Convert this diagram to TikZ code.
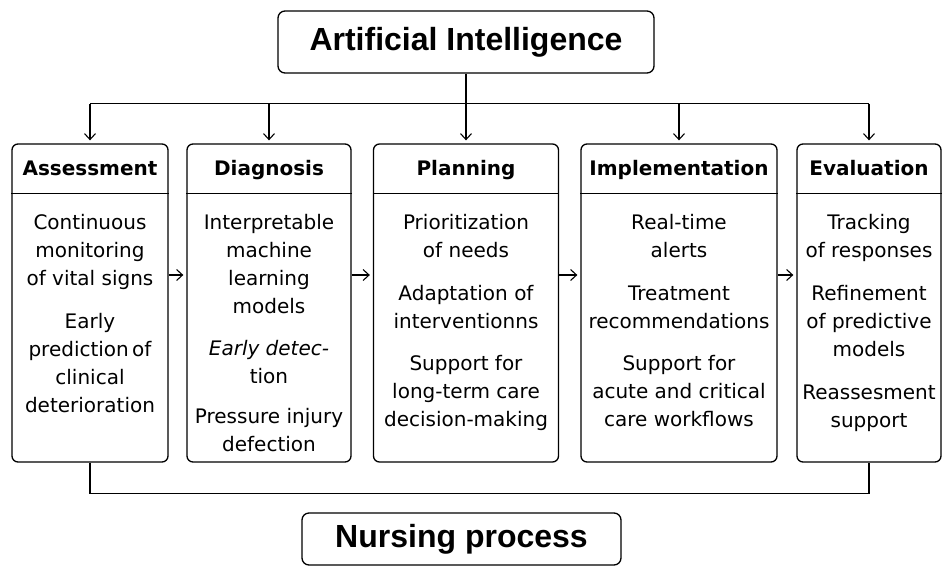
\documentclass[tikz,border=0pt]{standalone}
\usepackage{fontspec}
\setmainfont{DejaVu Sans}
\newfontfamily\titlefont{Liberation Sans}
\usepackage{tikz}
\usetikzlibrary{arrows.meta,positioning,calc}

\tikzset{
  bigbox/.style={draw,line width=1.3pt,rounded corners=7pt,minimum width=319pt,minimum height=52pt,
    font=\titlefont\bfseries\fontsize{32}{36}\selectfont},
  stage/.style={draw,line width=1.3pt,rounded corners=6pt,minimum height=318pt},
  stagehead/.style={text height=15pt,text depth=4pt,font=\bfseries\fontsize{20}{24}\selectfont},
  stagebody/.style={anchor=north,inner sep=0pt,align=center,font=\fontsize{20}{28}\selectfont},
  link/.style={line width=1.3pt},
  flow/.style={line width=1.1pt,-{Straight Barb[length=6pt,width=11pt]}},
}

\begin{document}
\begin{tikzpicture}[x=1pt,y=-1pt]
\useasboundingbox (0,0) rectangle (943,566);

% top and bottom boxes
\node[bigbox,minimum width=376pt,minimum height=62pt] (ai) at (466,42) {Artificial Intelligence};
\node[bigbox] (nurse) at (461.5,539) {Nursing process};

% the five stages
\node[stage,minimum width=156pt] (assess) at (90,303) {};
\node[stage,minimum width=164pt] (diag) at (269,303) {};
\node[stage,minimum width=185pt] (plan) at (466,303) {};
\node[stage,minimum width=196pt] (impl) at (679,303) {};
\node[stage,minimum width=144pt] (eval) at (869,303) {};

\foreach \s in {assess,diag,plan,impl,eval}
  \draw[link] ([yshift=-50pt]\s.north west) -- ([yshift=-50pt]\s.north east);

\node[stagehead] (assess-h) at (90,170) {Assessment};
\node[stagehead] (diag-h) at (269,170) {Diagnosis};
\node[stagehead] (plan-h) at (466,170) {Planning};
\node[stagehead] (impl-h) at (679,170) {Implementation};
\node[stagehead] (eval-h) at (869,170) {Evaluation};

\node[stagebody] (assess-b) at (90,214) {Continuous\\monitoring\\of vital signs\\[15pt]Early\\prediction\,of\\clinical\\deterioration};
\node[stagebody] (diag-b) at (269,214) {Interpretable\\machine\\learning\\models\\[14pt]\textit{Early detec-}\\tion\\[12pt]Pressure injury\\defection};
\node[stagebody] (plan-b) at (466,214) {Prioritization\\of needs\\[15pt]Adaptation of\\interventionns\\[14pt]Support for\\long-term care\\decision-making};
\node[stagebody] (impl-b) at (679,214) {Real-time\\alerts\\[15pt]Treatment\\recommendations\\[14pt]Support for\\acute and critical\\care workflows};
\node[stagebody] (eval-b) at (869,214) {Tracking\\of responses\\[15pt]Refinement\\of predictive\\models\\[15pt]Reassesment\\support};

% AI feeds every stage
\draw[link] (ai.south) -- ++(0,30) coordinate (bus);
\draw[link] (assess.north |- bus) -- (eval.north |- bus);
\foreach \s in {assess,diag,plan,impl,eval}
  \draw[flow,shorten >=3pt] (\s.north |- bus) -- (\s.north);

% stage to stage
\foreach \a/\b in {assess/diag,diag/plan,plan/impl,impl/eval}
  \draw[flow,shorten >=3pt] ([yshift=28pt]\a.east) -- ([yshift=28pt]\b.west);

% bracket under the stages
\draw[link] (assess.south) -- ++(0,31) -| (eval.south);
\end{tikzpicture}
\end{document}
